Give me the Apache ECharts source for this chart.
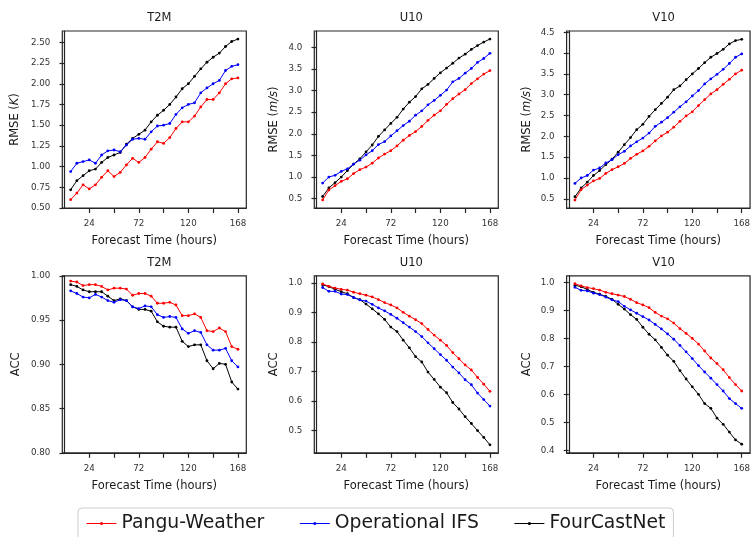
<!DOCTYPE html>
<html>
<head>
<meta charset="utf-8">
<script src="https://cdn.jsdelivr.net/npm/echarts@6/dist/echarts.min.js"></script>
<style>html,body{margin:0;padding:0;background:#fff;}#c{width:753px;height:537px;}</style>
</head>
<body>
<div id="c"></div>
<script>
// ---- data ----
const hours = [6,12,18,24,30,36,42,48,54,60,66,72,78,84,90,96,102,108,114,120,126,132,138,144,150,156,162,168];
const seriesNames = ['Pangu-Weather', 'Operational IFS', 'FourCastNet'];
const panelTitles = ['T2M', 'U10', 'V10', 'T2M', 'U10', 'V10'];
const xTicks = [24,48,72,96,120,144,168];
const xTickLabels = [24,72,120,168];

const rmseT2mPangu = [0.60,0.68,0.78,0.73,0.78,0.87,0.95,0.88,0.93,1.02,1.10,1.05,1.11,1.21,1.30,1.28,1.35,1.46,1.54,1.54,1.61,1.72,1.81,1.81,1.89,2.00,2.06,2.07];
const rmseT2mIFS   = [0.94,1.04,1.06,1.08,1.04,1.14,1.19,1.20,1.18,1.26,1.33,1.34,1.33,1.42,1.49,1.50,1.52,1.63,1.71,1.75,1.77,1.89,1.95,2.00,2.04,2.16,2.21,2.23];
const rmseT2mFCN   = [0.72,0.83,0.89,0.95,0.97,1.05,1.11,1.14,1.17,1.27,1.34,1.39,1.44,1.54,1.62,1.68,1.75,1.84,1.94,2.00,2.09,2.18,2.26,2.32,2.37,2.45,2.51,2.54];

const rmseU10Pangu = [0.47,0.70,0.80,0.90,0.96,1.08,1.17,1.23,1.32,1.44,1.53,1.61,1.72,1.85,1.96,2.05,2.17,2.31,2.43,2.53,2.68,2.81,2.92,3.02,3.16,3.27,3.38,3.46];
const rmseU10IFS   = [0.86,1.00,1.04,1.13,1.19,1.30,1.39,1.51,1.61,1.75,1.82,1.95,2.07,2.19,2.29,2.43,2.53,2.67,2.77,2.89,3.01,3.20,3.28,3.40,3.51,3.65,3.74,3.86];
const rmseU10FCN   = [0.55,0.75,0.87,1.00,1.15,1.30,1.42,1.58,1.74,1.94,2.09,2.24,2.38,2.57,2.73,2.86,3.04,3.14,3.28,3.41,3.52,3.63,3.75,3.84,3.95,4.04,4.12,4.19];

const rmseV10Pangu = [0.47,0.72,0.83,0.93,0.99,1.11,1.20,1.27,1.35,1.47,1.57,1.65,1.76,1.89,2.01,2.10,2.22,2.36,2.49,2.59,2.74,2.88,3.02,3.12,3.25,3.37,3.50,3.59];
const rmseV10IFS   = [0.87,1.00,1.06,1.19,1.24,1.36,1.44,1.56,1.64,1.77,1.87,1.96,2.08,2.24,2.34,2.45,2.58,2.71,2.83,2.97,3.10,3.26,3.38,3.49,3.61,3.75,3.90,3.98];
const rmseV10FCN   = [0.55,0.76,0.90,1.06,1.18,1.32,1.45,1.62,1.80,1.97,2.16,2.29,2.48,2.64,2.79,2.94,3.12,3.21,3.36,3.50,3.63,3.77,3.90,3.99,4.09,4.22,4.30,4.33];

const accT2mPangu = [0.994,0.993,0.989,0.990,0.990,0.988,0.984,0.986,0.986,0.985,0.978,0.980,0.980,0.977,0.969,0.969,0.970,0.967,0.955,0.955,0.957,0.953,0.938,0.937,0.941,0.937,0.920,0.917];
const accT2mIFS   = [0.983,0.980,0.976,0.975,0.979,0.976,0.972,0.970,0.973,0.972,0.965,0.963,0.966,0.965,0.956,0.953,0.954,0.953,0.940,0.935,0.938,0.936,0.922,0.916,0.916,0.918,0.904,0.897];
const accT2mFCN   = [0.990,0.988,0.984,0.982,0.982,0.982,0.977,0.972,0.974,0.972,0.965,0.962,0.962,0.960,0.948,0.943,0.942,0.942,0.926,0.920,0.922,0.922,0.904,0.895,0.901,0.900,0.880,0.872];

const accU10Pangu = [0.996,0.988,0.982,0.978,0.975,0.968,0.963,0.958,0.952,0.943,0.933,0.925,0.915,0.900,0.887,0.875,0.862,0.842,0.823,0.806,0.788,0.764,0.743,0.722,0.705,0.680,0.657,0.633];
const accU10IFS   = [0.984,0.971,0.971,0.962,0.960,0.950,0.942,0.938,0.927,0.915,0.905,0.893,0.880,0.865,0.850,0.835,0.818,0.797,0.777,0.757,0.738,0.715,0.695,0.672,0.655,0.627,0.605,0.583];
const accU10FCN   = [0.993,0.987,0.978,0.970,0.963,0.950,0.943,0.928,0.912,0.895,0.876,0.850,0.835,0.806,0.780,0.750,0.732,0.698,0.673,0.647,0.628,0.595,0.573,0.547,0.524,0.500,0.477,0.452];

const accV10Pangu = [0.996,0.988,0.982,0.978,0.973,0.965,0.960,0.955,0.950,0.940,0.928,0.920,0.910,0.893,0.880,0.870,0.855,0.835,0.818,0.800,0.780,0.755,0.730,0.710,0.688,0.660,0.635,0.612];
const accV10IFS   = [0.983,0.972,0.970,0.962,0.957,0.948,0.938,0.932,0.915,0.902,0.890,0.878,0.866,0.850,0.834,0.816,0.797,0.775,0.752,0.728,0.703,0.680,0.658,0.635,0.612,0.585,0.567,0.550];
const accV10FCN   = [0.990,0.985,0.975,0.965,0.958,0.950,0.940,0.922,0.905,0.885,0.868,0.840,0.815,0.795,0.768,0.740,0.718,0.685,0.655,0.627,0.600,0.567,0.550,0.515,0.493,0.465,0.437,0.422];

const yTicksRmseT2m = [0.5,0.75,1.0,1.25,1.5,1.75,2.0,2.25,2.5];
const yTicksRmseU10 = [0.5,1.0,1.5,2.0,2.5,3.0,3.5,4.0];
const yTicksRmseV10 = [0.5,1.0,1.5,2.0,2.5,3.0,3.5,4.0,4.5];
const yTicksAccT2m  = [0.80,0.85,0.90,0.95,1.00];
const yTicksAccU10  = [0.5,0.6,0.7,0.8,0.9,1.0];
const yTicksAccV10  = [0.4,0.5,0.6,0.7,0.8,0.9,1.0];

// ---- layout / style ----
const FONT = 'DejaVu Sans';
const colors = ['#ff0000', '#0000ff', '#000000'];
const panels = [
  {data:[rmseT2mPangu,rmseT2mIFS,rmseT2mFCN], ticks:yTicksRmseT2m, dec:2, min:0.5,   max:2.637, name:'RMSE ({i|K})',   left:62.3, top:31,    gap:41},
  {data:[rmseU10Pangu,rmseU10IFS,rmseU10FCN], ticks:yTicksRmseU10, dec:1, min:0.284, max:4.376, name:'RMSE ({i|m/s})', left:314.3, top:31,   gap:34},
  {data:[rmseV10Pangu,rmseV10IFS,rmseV10FCN], ticks:yTicksRmseV10, dec:1, min:0.28,  max:4.53,  name:'RMSE ({i|m/s})', left:566.6, top:31,   gap:34},
  {data:[accT2mPangu,accT2mIFS,accT2mFCN],    ticks:yTicksAccT2m,  dec:2, min:0.8,   max:1.0,   name:'ACC',            left:62.3, top:275.8, gap:40},
  {data:[accU10Pangu,accU10IFS,accU10FCN],    ticks:yTicksAccU10,  dec:1, min:0.4249,max:1.0236,name:'ACC',            left:314.3, top:275.8,gap:34},
  {data:[accV10Pangu,accV10IFS,accV10FCN],    ticks:yTicksAccV10,  dec:1, min:0.391, max:1.024, name:'ACC',            left:566.6, top:275.8,gap:34}
];
const W = 184, H = 177;
const axisColor = '#262626';

const grid = [], xAxis = [], yAxis = [], series = [], title = [];
panels.forEach((p, i) => {
  grid.push({left:p.left, top:p.top, width:W, height:H, show:true, borderColor:axisColor, borderWidth:1.2, backgroundColor:'transparent'});
  title.push({text:panelTitles[i], left:p.left + W/2, top:p.top - 24, textAlign:'center',
    textStyle:{fontFamily:FONT, fontSize:11.5, fontWeight:'normal', color:'#1a1a1a'}});
  xAxis.push({type:'value', gridIndex:i, min:-2.1, max:176.1,
    name:'Forecast Time (hours)', nameLocation:'middle', nameGap:27,
    nameTextStyle:{fontFamily:FONT, fontSize:11.5, color:'#1a1a1a'},
    axisLine:{show:true, onZero:false, lineStyle:{color:axisColor, width:1.2}},
    axisTick:{show:true, length:5, lineStyle:{color:axisColor, width:1.2}, customValues:xTicks},
    axisLabel:{show:true, margin:11, fontFamily:FONT, fontSize:8.7, color:'#333', customValues:xTickLabels},
    splitLine:{show:false}});
  yAxis.push({type:'value', gridIndex:i, min:p.min, max:p.max,
    name:p.name, nameLocation:'middle', nameGap:p.gap, nameRotate:90,
    nameTextStyle:{fontFamily:FONT, fontSize:11.5, color:'#1a1a1a', rich:{i:{fontFamily:FONT, fontSize:11.5, fontStyle:'italic', color:'#1a1a1a'}}},
    axisLine:{show:true, lineStyle:{color:axisColor, width:1.2}},
    axisTick:{show:true, length:5, lineStyle:{color:axisColor, width:1.2}, customValues:p.ticks},
    axisLabel:{show:true, margin:12, fontFamily:FONT, fontSize:8.7, color:'#333', customValues:p.ticks,
      formatter:(v) => Number(v).toFixed(p.dec)},
    splitLine:{show:false}});
  p.data.forEach((arr, k) => {
    series.push({type:'line', name:seriesNames[k], xAxisIndex:i, yAxisIndex:i,
      data:hours.map((h, j) => [h, arr[j]]),
      symbol:'circle', symbolSize:2.8, showSymbol:true,
      lineStyle:{color:colors[k], width:1}, itemStyle:{color:colors[k]},
      z:3 + (2 - k), silent:true, animation:false});
  });
});

const chart = echarts.init(document.getElementById('c'), null, {renderer:'canvas'});
chart.setOption({
  animation:false,
  backgroundColor:'#ffffff',
  title:title,
  grid:grid,
  xAxis:xAxis,
  yAxis:yAxis,
  series:series,
  legend:{
    data:seriesNames, left:78, top:508, orient:'horizontal',
    itemWidth:30, itemHeight:4, itemGap:35,
    padding:[6, 8, 8, 8],
    borderColor:'#cccccc', borderWidth:1, borderRadius:4, backgroundColor:'#ffffff',
    itemStyle:{borderWidth:0},
    lineStyle:{width:1},
    textStyle:{fontFamily:FONT, fontSize:18.8, color:'#1a1a1a'}
  }
});
</script>
</body>
</html>
